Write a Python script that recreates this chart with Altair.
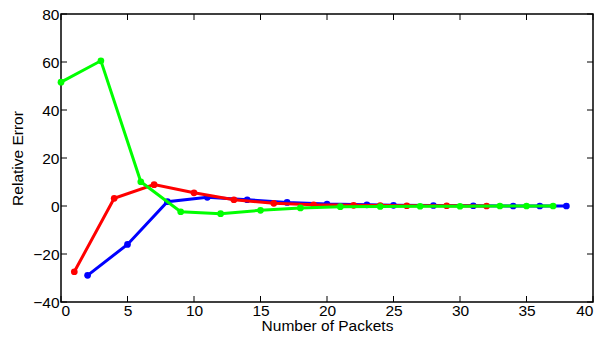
import altair as alt
import pandas as pd

blue_x = [2, 5, 8, 11, 14, 17, 20, 23, 25, 28, 31, 34, 36, 38]
blue_y = [-28.9, -16, 1.8, 3.6, 2.6, 1.5, 0.8, 0.5, 0.3, 0.2, 0.1, 0.0, 0.0, 0.0]
red_x = [1, 4, 7, 10, 13, 16, 19, 22, 24, 26, 29, 32]
red_y = [-27.4, 3.2, 8.9, 5.5, 2.6, 1.1, 0.5, 0.3, 0.2, 0.1, 0.1, 0.0]
green_x = [0, 3, 6, 9, 12, 15, 18, 21, 24, 27, 30, 33, 35, 37]
green_y = [51.6, 60.5, 10.1, -2.4, -3.2, -1.8, -0.8, -0.3, -0.2, -0.1, -0.1, 0.0, 0.0, 0.0]

x_ticks = [0, 5, 10, 15, 20, 25, 30, 35, 40]
y_ticks = [-40, -20, 0, 20, 40, 60, 80]

W, H = 532, 288
FONT = "Liberation Sans"

xs = alt.Scale(domain=[0, 40], nice=False, zero=False)
ys = alt.Scale(domain=[-40, 80], nice=False, zero=False)

def series(xv, yv, color):
    df = pd.DataFrame({"x": xv, "y": yv})
    base = alt.Chart(df)
    line = base.mark_line(color=color, strokeWidth=3).encode(
        x=alt.X("x:Q", scale=xs, axis=alt.Axis(values=x_ticks, title="Number of Packets")),
        y=alt.Y("y:Q", scale=ys, axis=alt.Axis(values=y_ticks, title="Relative Error")),
    )
    pts = base.mark_circle(color=color, size=45, opacity=1).encode(
        x=alt.X("x:Q", scale=xs), y=alt.Y("y:Q", scale=ys)
    )
    return line + pts

xt = pd.DataFrame({"t": x_ticks})
yt = pd.DataFrame({"t": y_ticks})
tick_len = 6
xb = alt.Chart(xt).mark_rule(color="black", strokeWidth=1).encode(
    x=alt.X("t:Q", scale=xs), y=alt.value(H), y2=alt.value(H - tick_len))
xtop = alt.Chart(xt).mark_rule(color="black", strokeWidth=1).encode(
    x=alt.X("t:Q", scale=xs), y=alt.value(0), y2=alt.value(tick_len))
yl = alt.Chart(yt).mark_rule(color="black", strokeWidth=1).encode(
    y=alt.Y("t:Q", scale=ys), x=alt.value(0), x2=alt.value(tick_len))
yr = alt.Chart(yt).mark_rule(color="black", strokeWidth=1).encode(
    y=alt.Y("t:Q", scale=ys), x=alt.value(W), x2=alt.value(W - tick_len))

chart = alt.layer(
    series(blue_x, blue_y, "#0000ff"),
    series(red_x, red_y, "#ff0000"),
    series(green_x, green_y, "#00ff00"),
    xb, xtop, yl, yr,
).properties(
    width=W, height=H,
    autosize=alt.AutoSizeParams(type="none"),
    padding={"left": 53, "top": 6, "right": 3, "bottom": 29},
).configure_view(
    stroke="black", strokeWidth=1.5
).configure_axis(
    grid=False, domain=False, ticks=False,
    labelFont=FONT, titleFont=FONT, labelFontSize=15.5, titleFontSize=15.5,
    labelColor="black", titleColor="black", titleFontWeight="normal",
    labelPadding=2,
).configure_axisX(
    labelPadding=1, titlePadding=0,
).configure_axisY(
    titlePadding=7,
)

chart.save("out.html", embed_options={"renderer": "svg", "actions": False})
